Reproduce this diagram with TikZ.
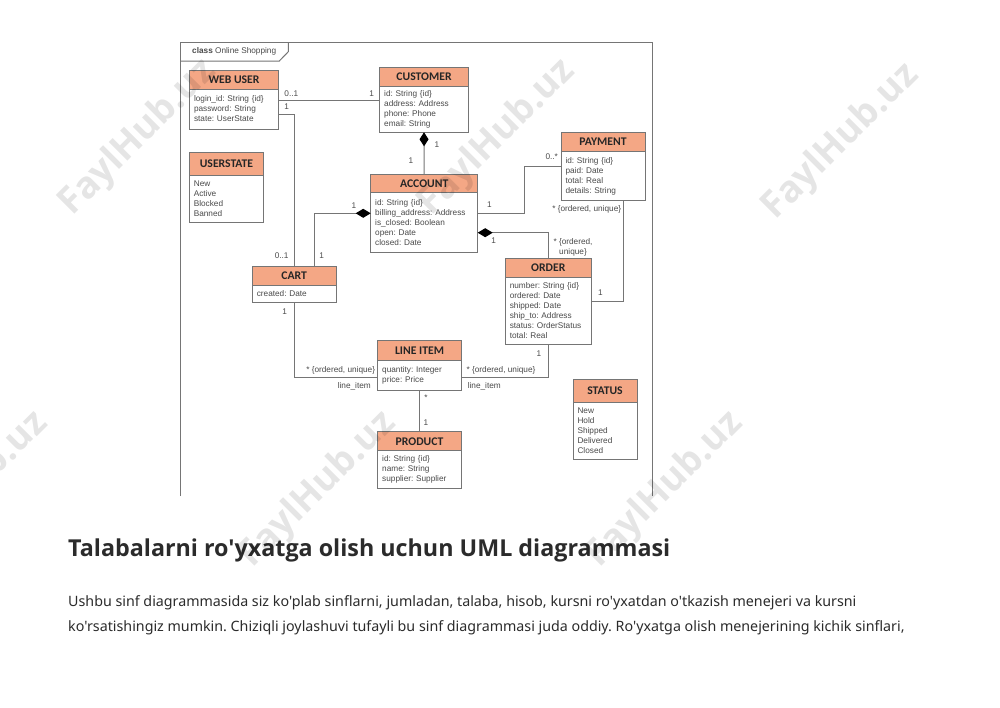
\documentclass[tikz,border=0pt]{standalone}
\usepackage{fontspec}
\usepackage{xcolor}
\usetikzlibrary{arrows.meta, positioning}
\setmainfont{Liberation Sans}
\newfontfamily\headfont{Carlito}
\newfontfamily\pagefont{Noto Sans}
\newfontfamily\titlefont{Open Sans}
\definecolor{headfill}{HTML}{F4A785}
\definecolor{umlline}{HTML}{757575}
\definecolor{umltext}{HTML}{4A4A4A}
\definecolor{pagetext}{HTML}{2B2B2B}
\tikzset{
  classhead/.style={draw=umlline, line width=1pt, fill=headfill, anchor=north west, inner sep=0pt, outer sep=0pt,
    text=black!85, font=\headfont\fontsize{11.7}{12}\selectfont\bfseries},
  classbody/.style={draw=umlline, line width=1pt, fill=white, inner xsep=4.5pt, inner ysep=0pt, outer sep=0pt, align=left,
    text=umltext, font=\frenchspacing\fontsize{8.25}{10}\selectfont},
  assoc/.style={draw=umlline, line width=1pt},
  mult/.style={inner sep=0pt, text=umltext, font=\frenchspacing\fontsize{8.25}{10}\selectfont},
  stamp/.style={rotate=45, inner sep=0pt, text=black, opacity=0.10, font=\titlefont\fontsize{37}{37}\selectfont\bfseries},
  pageline/.style={anchor=base west, inner sep=0pt, text=pagetext, font=\frenchspacing\pagefont\fontsize{14.26}{15}\selectfont},
}

\begin{document}
\begin{tikzpicture}[x=1pt, y=-1pt]

  \useasboundingbox (0,0) rectangle (1000,707);
  \clip (0,0) rectangle (1000,707);
  \fill[white] (0,0) rectangle (1000,707);

  % Frame
  \draw[assoc] (180.5,496) -- (180.5,42) -- (652,42) -- (652,496);
  \draw[assoc] (180.5,61) -- (279.3,61) -- (288.3,51.7) -- (288.3,42);
  \node[mult, anchor=west] (frametitle) at (192,51) {\textbf{class} Online Shopping};

  % Classes
  \node[classhead, minimum width=89pt, minimum height=18.3pt] (webuser) at (189.5,70.7) {WEB USER};
  \node[classbody, text width=80pt, minimum height=40pt, below=0pt of webuser] (webuserbody)
    {login\_id: String \{id\}\\password: String\\state: UserState};

  \node[classhead, minimum width=88.6pt, minimum height=19.4pt] (customer) at (379.7,67.3) {CUSTOMER};
  \node[classbody, text width=79.6pt, minimum height=45.6pt, below=0pt of customer] (customerbody)
    {id: String \{id\}\\address: Address\\phone: Phone\\email: String};

  \node[classhead, minimum width=74.4pt, minimum height=22.7pt] (userstate) at (189.3,152.3) {USERSTATE};
  \node[classbody, text width=65.4pt, minimum height=47.3pt, below=0pt of userstate] (userstatebody)
    {New\\Active\\Blocked\\Banned};

  \node[classhead, minimum width=107pt, minimum height=18.4pt] (account) at (370.7,174.3) {ACCOUNT};
  \node[classbody, text width=98pt, minimum height=59.6pt, below=0pt of account] (accountbody)
    {id: String \{id\}\\billing\_address: Address\\is\_closed: Boolean\\open: Date\\closed: Date};

  \node[classhead, minimum width=84pt, minimum height=19pt] (payment) at (561,132.7) {PAYMENT};
  \node[classbody, text width=75pt, minimum height=48.6pt, below=0pt of payment] (paymentbody)
    {id: String \{id\}\\paid: Date\\total: Real\\details: String};

  \node[classhead, minimum width=86pt, minimum height=18.6pt] (order) at (505.3,258.7) {ORDER};
  \node[classbody, text width=77pt, minimum height=67pt, below=0pt of order] (orderbody)
    {number: String \{id\}\\ordered: Date\\shipped: Date\\ship\_to: Address\\status: OrderStatus\\total: Real};

  \node[classhead, minimum width=83.7pt, minimum height=19pt] (cart) at (252.3,266) {CART};
  \node[classbody, text width=74.7pt, minimum height=17.7pt, below=0pt of cart] (cartbody)
    {created: Date};

  \node[classhead, minimum width=83.6pt, minimum height=19.3pt] (lineitem) at (377.7,340.7) {LINE ITEM};
  \node[classbody, text width=74.6pt, minimum height=30pt, below=0pt of lineitem] (lineitembody)
    {quantity: Integer\\price: Price};

  \node[classhead, minimum width=83.6pt, minimum height=19pt] (product) at (377.7,431.7) {PRODUCT};
  \node[classbody, text width=74.6pt, minimum height=38pt, below=0pt of product] (productbody)
    {id: String \{id\}\\name: String\\supplier: Supplier};

  \node[classhead, minimum width=64pt, minimum height=23pt] (status) at (573,379) {STATUS};
  \node[classbody, text width=55pt, minimum height=57pt, below=0pt of status] (statusbody)
    {New\\Hold\\Shipped\\Delivered\\Closed};

  % Connectors
  \coordinate (cartin) at (294,266);
  \coordinate (cartown) at (314.7,266);
  \draw[assoc] (webuserbody.east |- 0,100) -- (customerbody.west |- 0,100);
  \draw[assoc] (webuserbody.east |- 0,114) -| (cartin);
  \draw[assoc, {Diamond[length=14pt, width=9pt, color=black]}-] (customerbody.south) -- (account.north);
  \draw[assoc, {Diamond[length=15pt, width=9pt, color=black]}-] (accountbody.west |- 0,213.3) -| (cartown);
  \draw[assoc] (accountbody.east |- 0,213.3) -- (524,213.3) -- (524,166.3) -- (paymentbody.west |- 0,166.3);
  \draw[assoc, {Diamond[length=15pt, width=9pt, color=black]}-] (accountbody.east |- 0,232.7) -| (548.7,258.7);
  \draw[assoc] (623.7,200.3) |- (orderbody.east |- 0,301.3);
  \draw[assoc] (cartbody.south -| 294,0) |- (lineitembody.west |- 0,377.7);
  \draw[assoc] (orderbody.south -| 548.3,0) |- (lineitembody.east |- 0,377.7);
  \draw[assoc] (lineitembody.south) -- (product.north);

  % Multiplicities
  \foreach \x/\y/\t [count=\i] in {291.3/93.3/0..1, 371.7/93.3/1, 286.7/106.7/1, 437/144.3/1, 411/161/1,
      354/206/1, 281.7/255.7/0..1, 321.7/255.7/1, 489.3/204.7/1, 551.7/156.7/0..*, 493.7/240.7/1,
      600.3/293/1, 539/353.3/1, 284.7/311.7/1, 426/398/*, 426/423/1, 354.3/386/line\_item, 484.3/386/line\_item}
    \node[mult] (mult\i) at (\x,\y) {\t};
  \node[mult] (paymentrole) at (586.7,209.3) {* \{ordered, unique\}};
  \node[mult, align=center] (orderrole) at (573,247) {* \{ordered,\\unique\}};
  \node[mult] (cartrole) at (340.7,370) {* \{ordered, unique\}};
  \node[mult] (orderline) at (501,370) {* \{ordered, unique\}};

  % Page text
  \node[anchor=base west, inner sep=0pt, text=pagetext, font=\titlefont\fontsize{23.3}{24}\selectfont\bfseries] (heading) at (68,556)
    {Talabalarni ro'yxatga olish uchun UML diagrammasi};
  \node[pageline] (lineone) at (68,606)
    {Ushbu sinf diagrammasida siz ko'plab sinflarni, jumladan, talaba, hisob, kursni ro'yxatdan o'tkazish menejeri va kursni};
  \node[pageline] (linetwo) at (68,631)
    {ko'rsatishingiz mumkin. Chiziqli joylashuvi tufayli bu sinf diagrammasi juda oddiy. Ro'yxatga olish menejerining kichik sinflari,};

  % Watermarks
  \foreach \x/\y [count=\i] in {138/138, 497/138, 841/142, -30/490, 318/490, 665/490}
    \node[stamp] (stamp\i) at (\x,\y) {FaylHub.uz};

\end{tikzpicture}
\end{document}
